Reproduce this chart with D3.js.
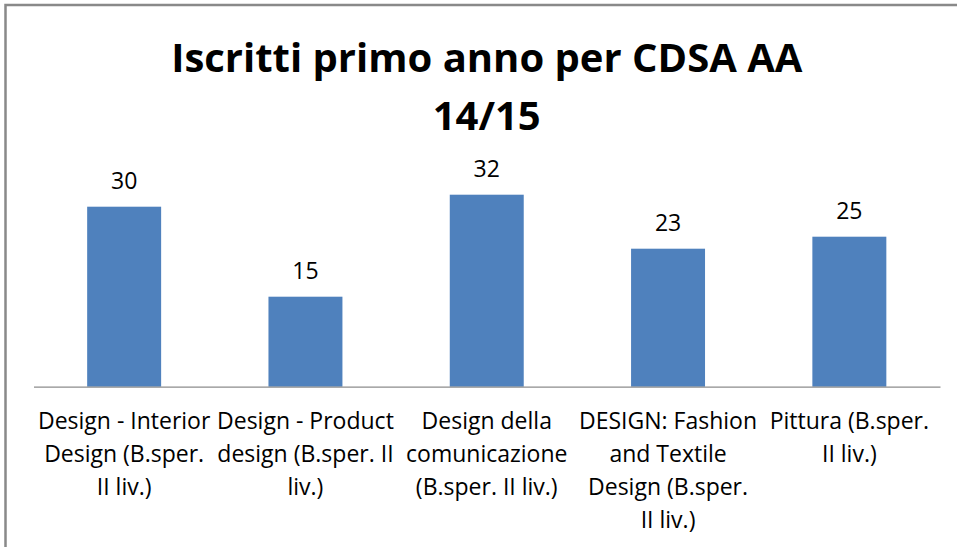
<!DOCTYPE html>
<html>
<head>
<meta charset="utf-8">
<script src="https://cdn.jsdelivr.net/npm/d3@7"></script>
<style>
    html, body {margin: 0; padding: 0; background: #fff;}
    svg {display: block;}
    text {font-family: "Open Sans", "DejaVu Sans", sans-serif; fill: #000;}
</style>
</head>
<body>
<div id="chart"></div>
<script>
// categories, one entry per bar, already split the way the labels wrap
const categories = [
    "Design - Interior Design (B.sper. II liv.)",
    "Design - Product design (B.sper. II liv.)",
    "Design della comunicazione (B.sper. II liv.)",
    "DESIGN: Fashion and Textile Design (B.sper. II liv.)",
    "Pittura (B.sper. II liv.)"
];
const categoryLines = [
    ["Design - Interior", "Design (B.sper.", "II liv.)"],
    ["Design - Product", "design (B.sper. II", "liv.)"],
    ["Design della", "comunicazione", "(B.sper. II liv.)"],
    ["DESIGN: Fashion", "and Textile", "Design (B.sper.", "II liv.)"],
    ["Pittura (B.sper.", "II liv.)"]
];
const iscritti = [30, 15, 32, 23, 25];
const titleLines = ["Iscritti primo anno per CDSA AA", "14/15"];

const W = 957, H = 547;
const plot = {left: 33.5, right: 940, top: 176.7, bottom: 386.7};
const lineStep = 33;

const svg = d3.select("#chart")
    .append("svg")
    .attr("width", W)
    .attr("height", H);

// chart frame (only top and left edges are inside the picture)
svg.append("rect")
    .attr("x", 5.5)
    .attr("y", 5)
    .attr("width", W + 10)
    .attr("height", H + 10)
    .attr("fill", "none")
    .attr("stroke", "#898989")
    .attr("stroke-width", 2.5);

const x = d3.scaleBand()
    .domain(categories)
    .range([plot.left, plot.right])
    .paddingInner(0.592)
    .paddingOuter(0.296);

const y = d3.scaleLinear()
    .domain([0, 35])
    .range([plot.bottom, plot.top]);

// title
svg.append("g")
    .selectAll("text")
    .data(titleLines)
    .enter().append("text")
    .attr("x", (plot.left + plot.right) / 2)
    .attr("y", (d, i) => 71.7 + i * 58.3)
    .attr("text-anchor", "middle")
    .style("font-size", "40px")
    .style("font-weight", "bold")
    .text(d => d);

// bars
svg.append("g")
    .selectAll("rect")
    .data(iscritti)
    .enter().append("rect")
    .attr("x", (d, i) => x(categories[i]))
    .attr("y", d => y(d))
    .attr("width", x.bandwidth())
    .attr("height", d => y(0) - y(d))
    .attr("fill", "#4F81BD");

// value labels
svg.append("g")
    .selectAll("text")
    .data(iscritti)
    .enter().append("text")
    .attr("x", (d, i) => x(categories[i]) + x.bandwidth() / 2)
    .attr("y", d => y(d) - 18)
    .attr("text-anchor", "middle")
    .style("font-size", "23px")
    .text(d => d);

// x axis: line only, category labels wrapped by hand
const xAxis = d3.axisBottom(x)
    .tickSize(0)
    .tickSizeOuter(0)
    .tickFormat("");

const gx = svg.append("g")
    .attr("transform", "translate(0," + plot.bottom + ")")
    .call(xAxis);
gx.select(".domain")
    .attr("stroke", "#8c8c8c")
    .attr("stroke-width", 1.2);

gx.selectAll(".tick").each(function (d, i) {
    d3.select(this).selectAll("text.cat")
        .data(categoryLines[i])
        .enter().append("text")
        .attr("class", "cat")
        .attr("x", 0)
        .attr("y", (line, j) => 42.5 + j * lineStep)
        .attr("text-anchor", "middle")
        .style("font-size", "23px")
        .text(line => line);
});
</script>
</body>
</html>
